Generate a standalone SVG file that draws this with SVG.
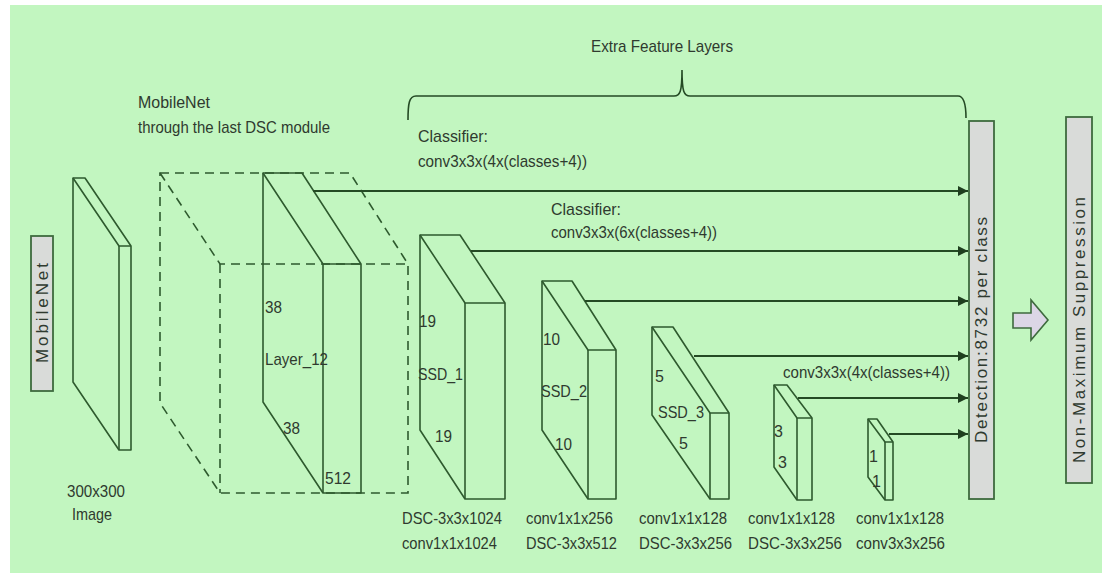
<svg xmlns="http://www.w3.org/2000/svg" width="1102" height="576" viewBox="0 0 1102 576">
  <style>
    .bg{fill:#c2f6c0}
    .slab{fill:none;stroke:#2e5a2e;stroke-width:1.6;stroke-linejoin:round}
    .dash{fill:none;stroke:#2e5a2e;stroke-width:1.6;stroke-dasharray:9,6}
    .conn{stroke:#244a24;stroke-width:1.8;fill:none}
    .box{fill:#d9dbd9;stroke:#3e6a3e;stroke-width:1.8}
    text{font-family:"Liberation Sans",Arial,sans-serif;fill:#2f3a2f;font-size:17px}
    .num{font-size:16px}
  </style>
  <defs>
    <marker id="ah" markerUnits="userSpaceOnUse" markerWidth="10" markerHeight="10" refX="10" refY="5" orient="auto">
      <path d="M0,0 L10,5 L0,10 z" fill="#1f3f1f"/>
    </marker>
  </defs>

  <rect x="0" y="0" width="1102" height="576" fill="#ffffff"/>
  <rect class="bg" x="10" y="5" width="1092" height="568"/>

  <g id="extra-feature-layers">
    <text x="662" y="52" text-anchor="middle" textLength="142" lengthAdjust="spacingAndGlyphs">Extra Feature Layers</text>
    <path class="conn" style="stroke-width:1.6" d="M408,120 C408,104 409,96 416,96 L674,96 C680,96 682,92 682,70 C682,92 684,96 690,96 L958,96 C964,96 966,104 966,118"/>
  </g>

  <g id="mobilenet-label">
    <text x="138" y="108" textLength="72" lengthAdjust="spacingAndGlyphs">MobileNet</text>
    <text x="138" y="133" textLength="192" lengthAdjust="spacingAndGlyphs">through the last DSC module</text>
  </g>

  <g id="mobilenet-box">
    <rect class="box" x="31" y="236" width="22" height="155"/>
    <text transform="rotate(-90 42 313)" x="42" y="313" text-anchor="middle" dominant-baseline="central" font-size="14" textLength="100" lengthAdjust="spacing">MobileNet</text>
  </g>

  <g id="input-image">
    <polygon class="slab" points="73,178 85,178 131,246 131,450 119,450 73,382"/>
    <polyline class="slab" points="73,178 119,246 131,246"/>
    <line class="slab" x1="119" y1="246" x2="119" y2="450"/>
    <text x="96" y="497" text-anchor="middle" textLength="58" lengthAdjust="spacingAndGlyphs">300x300</text>
    <text x="92" y="520" text-anchor="middle" textLength="40" lengthAdjust="spacingAndGlyphs">Image</text>
  </g>

  <g id="mobilenet-block">
    <polygon class="dash" points="160,173 350,173 408,264 408,493 220,493 160,403"/>
    <polyline class="dash" points="160,173 220,264 408,264"/>
    <line class="dash" x1="220" y1="264" x2="220" y2="493"/>
  </g>

  <g id="layer12">
    <polygon class="slab" points="263,173 302,173 361,264 361,493 323,493 263,402"/>
    <polyline class="slab" points="263,173 323,264 361,264"/>
    <line class="slab" x1="323" y1="264" x2="323" y2="493"/>
    <text class="num" x="265" y="313" textLength="17" lengthAdjust="spacingAndGlyphs">38</text>
    <text x="265" y="365" textLength="63" lengthAdjust="spacingAndGlyphs">Layer_12</text>
    <text class="num" x="283" y="434" textLength="17" lengthAdjust="spacingAndGlyphs">38</text>
    <text class="num" x="325" y="484" textLength="26" lengthAdjust="spacingAndGlyphs">512</text>
  </g>

  <g id="ssd1">
    <polygon class="slab" points="420,235 460,235 505,303 505,499 465,499 420,430"/>
    <polyline class="slab" points="420,235 465,303 505,303"/>
    <line class="slab" x1="465" y1="303" x2="465" y2="499"/>
    <text class="num" x="419" y="327" textLength="17" lengthAdjust="spacingAndGlyphs">19</text>
    <text x="418" y="380" textLength="45" lengthAdjust="spacingAndGlyphs">SSD_1</text>
    <text class="num" x="435" y="442" textLength="17" lengthAdjust="spacingAndGlyphs">19</text>
    <text x="402" y="524" textLength="100" lengthAdjust="spacingAndGlyphs">DSC-3x3x1024</text>
    <text x="402" y="549" textLength="95" lengthAdjust="spacingAndGlyphs">conv1x1x1024</text>
  </g>

  <g id="ssd2">
    <polygon class="slab" points="542,281 572,281 616,350 616,499 588,499 542,430"/>
    <polyline class="slab" points="542,281 588,350 616,350"/>
    <line class="slab" x1="588" y1="350" x2="588" y2="499"/>
    <text class="num" x="543" y="345" textLength="17" lengthAdjust="spacingAndGlyphs">10</text>
    <text x="541" y="397" textLength="46" lengthAdjust="spacingAndGlyphs">SSD_2</text>
    <text class="num" x="555" y="450" textLength="17" lengthAdjust="spacingAndGlyphs">10</text>
    <text x="526" y="524" textLength="87" lengthAdjust="spacingAndGlyphs">conv1x1x256</text>
    <text x="526" y="549" textLength="91" lengthAdjust="spacingAndGlyphs">DSC-3x3x512</text>
  </g>

  <g id="ssd3">
    <polygon class="slab" points="652,327 673,327 729,413 729,499 710,499 652,415"/>
    <polyline class="slab" points="652,327 710,413 729,413"/>
    <line class="slab" x1="710" y1="413" x2="710" y2="499"/>
    <text class="num" x="655" y="382">5</text>
    <text x="658" y="418" textLength="46" lengthAdjust="spacingAndGlyphs">SSD_3</text>
    <text class="num" x="679" y="449">5</text>
    <text x="639" y="524" textLength="88" lengthAdjust="spacingAndGlyphs">conv1x1x128</text>
    <text x="639" y="549" textLength="93" lengthAdjust="spacingAndGlyphs">DSC-3x3x256</text>
  </g>

  <g id="layer-3x3">
    <polygon class="slab" points="774,385 787,385 812,418 812,500 797,500 774,467"/>
    <polyline class="slab" points="774,385 797,418 812,418"/>
    <line class="slab" x1="797" y1="418" x2="797" y2="500"/>
    <text class="num" x="774" y="437">3</text>
    <text class="num" x="778" y="468">3</text>
    <text x="748" y="524" textLength="87" lengthAdjust="spacingAndGlyphs">conv1x1x128</text>
    <text x="748" y="549" textLength="94" lengthAdjust="spacingAndGlyphs">DSC-3x3x256</text>
  </g>

  <g id="layer-1x1">
    <polygon class="slab" points="868,419 877,419 893,442 893,500 885,500 868,477"/>
    <polyline class="slab" points="868,419 885,442 893,442"/>
    <line class="slab" x1="885" y1="442" x2="885" y2="500"/>
    <text class="num" x="869" y="462" font-size="13">1</text>
    <text class="num" x="872" y="487" font-size="13">1</text>
    <text x="856" y="524" textLength="88" lengthAdjust="spacingAndGlyphs">conv1x1x128</text>
    <text x="856" y="549" textLength="89" lengthAdjust="spacingAndGlyphs">conv3x3x256</text>
  </g>

  <g id="detection">
    <rect class="box" x="969" y="121" width="25" height="378"/>
    <text transform="rotate(-90 981 330)" x="981" y="330" text-anchor="middle" dominant-baseline="central" font-size="16" textLength="226" lengthAdjust="spacing">Detection:8732 per class</text>
  </g>

  <g id="nms">
    <rect class="box" x="1066" y="117" width="26" height="366"/>
    <text transform="rotate(-90 1079 330)" x="1079" y="330" text-anchor="middle" dominant-baseline="central" font-size="16" textLength="266" lengthAdjust="spacing">Non-Maximum Suppression</text>
  </g>

  <g id="nms-arrow">
    <polygon points="1013,313 1031,313 1031,300 1048,320 1031,340 1031,328 1013,328" fill="#dcd6e6" stroke="#3e6a3e" stroke-width="1.6" stroke-linejoin="miter"/>
  </g>

  <g id="connectors">
    <line class="conn" x1="313" y1="191" x2="968" y2="191" marker-end="url(#ah)"/>
    <line class="conn" x1="471" y1="251" x2="968" y2="251" marker-end="url(#ah)"/>
    <line class="conn" x1="585" y1="301" x2="968" y2="301" marker-end="url(#ah)"/>
    <line class="conn" x1="694" y1="356" x2="968" y2="356" marker-end="url(#ah)"/>
    <line class="conn" x1="798" y1="398" x2="968" y2="398" marker-end="url(#ah)"/>
    <line class="conn" x1="889" y1="434" x2="968" y2="434" marker-end="url(#ah)"/>
    <text x="418" y="142" textLength="70" lengthAdjust="spacingAndGlyphs">Classifier:</text>
    <text x="418" y="167" textLength="169" lengthAdjust="spacingAndGlyphs">conv3x3x(4x(classes+4))</text>
    <text x="551" y="215" textLength="70" lengthAdjust="spacingAndGlyphs">Classifier:</text>
    <text x="551" y="238" textLength="166" lengthAdjust="spacingAndGlyphs">conv3x3x(6x(classes+4))</text>
    <text x="783" y="378" textLength="167" lengthAdjust="spacingAndGlyphs">conv3x3x(4x(classes+4))</text>
  </g>
</svg>
